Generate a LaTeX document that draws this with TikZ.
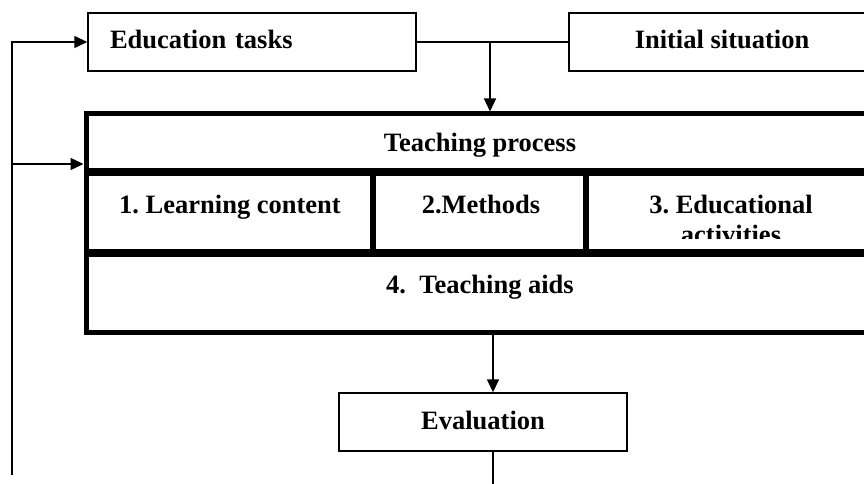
\documentclass[tikz,border=0pt]{standalone}
\usepackage{fontspec}
\setmainfont{Liberation Serif}
\usetikzlibrary{arrows.meta}
\frenchspacing

\begin{document}
\begin{tikzpicture}[x=1pt, y=-1pt,
	font=\fontsize{26.5}{30}\selectfont\bfseries,
	txt/.style={inner sep=0pt, text height=18pt, text depth=4pt},
	box/.style={txt, draw=black, line width=1.4pt, minimum height=58pt},
	heavy/.style={line width=8pt},
	arr/.style={-{Triangle[length=13pt, width=12pt]}, line width=1.4pt}]
	\useasboundingbox (0,0) rectangle (864,484);
	\clip (0,0) rectangle (864,484);
	% top row
	\node[box, minimum width=328pt, text width=284pt, align=left] (tasks) at (252,42) {Education tasks};
	\node[box, minimum width=306pt] (init) at (722,42) {Initial situation};
	% teaching process block
	\node[draw=black, line width=5pt, inner sep=0pt,
	minimum width=788pt, minimum height=218pt] (teach) at (480,223) {};
	\node[txt] (hdr) at (480,144) {Teaching process};
	\coordinate (s1) at (0,172);
	\coordinate (s2) at (0,253);
	\draw[heavy] (teach.west |- s1) -- (teach.east |- s1);
	\draw[heavy] (teach.west |- s2) -- (teach.east |- s2);
	\draw[line width=6pt] (373,172) -- (373,253);
	\draw[line width=6pt] (586,172) -- (586,253);
	\node[txt] (cont) at (230,206) {1. Learning content};
	\node[txt] (meth) at (481,206) {2.Methods};
	\begin{scope}
		\clip (589,176) rectangle (870,238);
		\node[anchor=base, align=center, inner sep=0pt] (acts) at (731,243) {3. Educational\\activities};
	\end{scope}
	\node[txt] (aids) at (480,286) {4.\ \ Teaching aids};
	% evaluation
	\node[box, minimum width=288pt] (eval) at (483,422) {Evaluation};
	% connectors
	\coordinate (fb) at (12,475);
	\coordinate (fb2) at (12,164);
	\coordinate (split) at (490,42);
	\coordinate (down) at (493,484);
	\draw[arr] (fb) |- (tasks.west);
	\draw[arr] (fb2) -- (fb2 -| teach.west);
	\draw[line width=1.4pt] (tasks) -- (init);
	\draw[arr] (split) -- (split |- teach.north);
	\draw[arr] (down |- teach.south) -- (down |- eval.north);
	\draw[line width=1.4pt] (down |- eval.south) -- (down);
\end{tikzpicture}
\end{document}
